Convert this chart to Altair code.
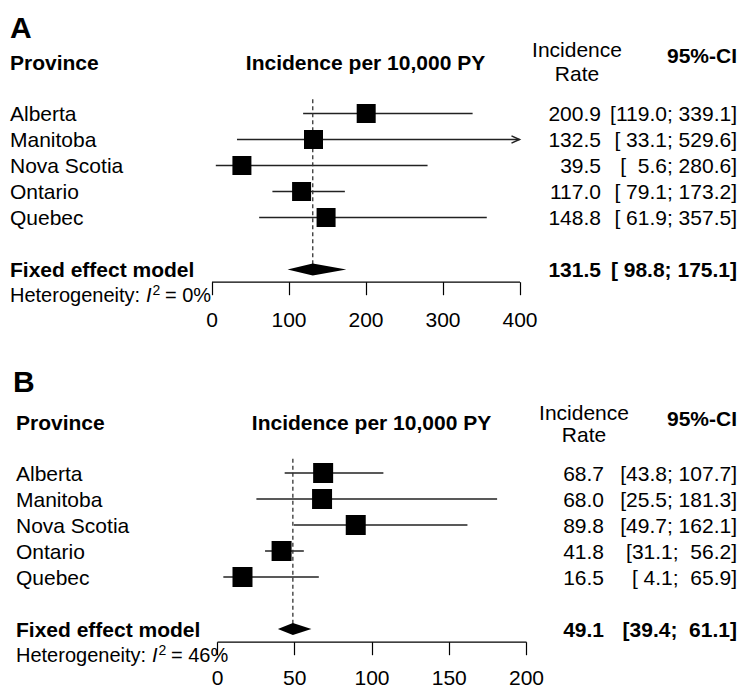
import altair as alt
import pandas as pd

# ---------------- data ----------------
provinces = ["Alberta", "Manitoba", "Nova Scotia", "Ontario", "Quebec"]

a_rate = [200.9, 132.5, 39.5, 117.0, 148.8]
a_lower = [119.0, 33.1, 5.6, 79.1, 61.9]
a_upper = [339.1, 529.6, 280.6, 173.2, 357.5]
a_fixed = [131.5, 98.8, 175.1]          # estimate, lower, upper
a_i2 = "0%"
a_ticks = [0, 100, 200, 300, 400]

b_rate = [68.7, 68.0, 89.8, 41.8, 16.5]
b_lower = [43.8, 25.5, 49.7, 31.1, 4.1]
b_upper = [107.7, 181.3, 162.1, 56.2, 65.9]
b_fixed = [49.1, 39.4, 61.1]
b_i2 = "46%"
b_ticks = [0, 50, 100, 150, 200]

# ---------------- style / layout ----------------
FONT = "Liberation Sans, Arial, Helvetica, sans-serif"
NB = "\u00a0"
FS = 21
HFS = 20   # heterogeneity line
W = 732

LA = dict(H=336, x0=203.5, x1=511.5, row1=105.5, step=26, lx=2, rate_x=593, ci_x=729,
          axis_y=273.7, tick=13, lab_c=310.5, head_y=54, inc_x=569, inc_y=(41, 65.5),
          ci_head_y=47, letter=(2, 19.5), het_y=287, sq=19)
LB = dict(H=338, x0=209, x1=518, row1=129, step=26, lx=8, rate_x=596, ci_x=729,
          axis_y=297.7, tick=13, lab_c=333, head_y=78, inc_x=576, inc_y=(68, 90),
          ci_head_y=74.5, letter=(5, 37), het_y=311, sq=20)


def fmt(v):
    return f"{v:.1f}"


def pad(s, w):
    return NB * (w - len(s)) + s


def cap_adj(size):
    # shift so that the given y is the visual centre of capital letters
    return 0.358 * size - round(0.3 * size)


def txt(s, x, y, size=FS, bold=False, align="left", italic=False):
    return alt.Chart(pd.DataFrame({"t": [s]})).mark_text(
        align=align, baseline="middle", font=FONT, fontSize=size,
        fontWeight="bold" if bold else "normal",
        fontStyle="italic" if italic else "normal", color="black",
    ).encode(x=alt.value(x), y=alt.value(y + cap_adj(size)), text="t:N")


def panel(letter, rate, lower, upper, fixed, i2, ticks, L):
    xmin, xmax = ticks[0], ticks[-1]
    n = len(provinces)
    wr = max(len(fmt(v)) for v in rate + [fixed[0]])
    wl = max(len(fmt(v)) for v in lower + [fixed[1]])
    wh = max(len(fmt(v)) for v in upper + [fixed[2]])

    def ci(a, b):
        return "[" + pad(fmt(a), wl) + ";" + NB + pad(fmt(b), wh) + "]"

    rows = pd.DataFrame({"r": list(range(1, n + 1)), "label": provinces,
                         "est": rate, "lo": lower, "hi": upper})
    rows["lo_c"] = rows["lo"].clip(lower=xmin)
    rows["hi_c"] = rows["hi"].clip(upper=xmax)
    rows["rate_s"] = [pad(fmt(v), wr) for v in rate]
    rows["ci_s"] = [ci(a, b) for a, b in zip(lower, upper)]
    arrows = rows[rows["hi"] > xmax]

    rf = n + 2
    fix = pd.DataFrame({"r": [rf], "label": ["Fixed effect model"],
                        "rate_s": [pad(fmt(fixed[0]), wr)],
                        "ci_s": [ci(fixed[1], fixed[2])]})
    h = 6.0 / L["step"]
    diamond = pd.DataFrame({"x": [fixed[1], fixed[0], fixed[2]],
                            "y1": [rf, rf - h, rf], "y2": [rf, rf + h, rf]})
    ref = pd.DataFrame({"est": [fixed[0]], "top": [0.45], "bot": [rf]})

    lab_pad = L["lab_c"] - 9.5 - L["axis_y"] - L["tick"]
    ax = alt.Axis(values=ticks, offset=L["axis_y"] - L["H"], tickSize=L["tick"],
                  labelPadding=lab_pad, domainColor="black", tickColor="black",
                  labelColor="black", labelFont=FONT, labelFontSize=FS,
                  labelFlush=False, labelOverlap=False, grid=False, title=None,
                  domainWidth=1.2, tickWidth=1.2, format="d")
    xs = alt.Scale(domain=[xmin, xmax], range=[L["x0"], L["x1"]], nice=False, zero=False)
    rtop = 1 - L["row1"] / L["step"]
    rbot = 1 + (L["H"] - L["row1"]) / L["step"]
    ys = alt.Scale(domain=[rtop, rbot], reverse=True, nice=False, zero=False)

    def X(f):
        return alt.X(f, type="quantitative", scale=xs, axis=ax)

    def Y(f):
        return alt.Y(f, type="quantitative", scale=ys, axis=None)

    layers = []
    layers.append(alt.Chart(rows).mark_rule(color="#222", strokeWidth=1.3).encode(
        x=X("lo_c"), x2="hi_c", y=Y("r")))
    if len(arrows):
        layers.append(alt.Chart(arrows).mark_point(
            shape="M-1,-0.45L0,0L-1,0.45", filled=False, size=256, strokeWidth=1.5,
            color="#222", opacity=1).encode(x=X("hi_c"), y=Y("r")))
    layers.append(alt.Chart(ref).mark_rule(color="#333", strokeWidth=1.3, strokeDash=[4, 3]).encode(
        x=X("est"), y=Y("top"), y2="bot"))
    layers.append(alt.Chart(rows).mark_square(size=L["sq"] ** 2, color="black", opacity=1).encode(
        x=X("est"), y=Y("r")))
    layers.append(alt.Chart(diamond).mark_area(color="black").encode(
        x=X("x"), y=Y("y1"), y2="y2"))

    dy = cap_adj(FS)
    for data, bold in ((rows, False), (fix, True)):
        fw = "bold" if bold else "normal"
        layers.append(alt.Chart(data).mark_text(align="left", baseline="middle", dy=dy, font=FONT,
                                                fontSize=FS, fontWeight=fw, color="black").encode(
            x=alt.value(L["lx"]), y=Y("r"), text="label:N"))
        layers.append(alt.Chart(data).mark_text(align="right", baseline="middle", dy=dy, font=FONT,
                                                fontSize=FS, fontWeight=fw, color="black").encode(
            x=alt.value(L["rate_x"]), y=Y("r"), text="rate_s:N"))
        layers.append(alt.Chart(data).mark_text(align="right", baseline="middle", dy=dy, font=FONT,
                                                fontSize=FS, fontWeight=fw, color="black").encode(
            x=alt.value(L["ci_x"]), y=Y("r"), text="ci_s:N"))

    cx = (L["x0"] + L["x1"]) / 2
    lx = L["lx"]
    layers += [
        txt(letter, L["letter"][0], L["letter"][1], size=30, bold=True),
        txt("Province", lx, L["head_y"], bold=True),
        txt("Incidence per 10,000 PY", cx, L["head_y"], bold=True, align="center"),
        txt("Incidence", L["inc_x"], L["inc_y"][0], align="center"),
        txt("Rate", L["inc_x"], L["inc_y"][1], align="center"),
        txt("95%-CI", L["ci_x"], L["ci_head_y"], bold=True, align="right"),
        txt("Heterogeneity:", lx, L["het_y"], size=HFS),
        txt("I", lx + 136, L["het_y"], size=HFS, italic=True),
        txt("2", lx + 142.5, L["het_y"] - 5, size=14),
        txt("= " + i2, lx + 155, L["het_y"], size=HFS),
    ]
    return alt.layer(*layers).properties(width=W, height=L["H"])


pA = panel("A", a_rate, a_lower, a_upper, a_fixed, a_i2, a_ticks, LA)
pB = panel("B", b_rate, b_lower, b_upper, b_fixed, b_i2, b_ticks, LB)

chart = alt.vconcat(pA, pB, spacing=0, bounds="flush").properties(
    padding=0, background="white").configure_view(stroke=None)

chart.save("out.html", embed_options={"renderer": "svg", "actions": False})
